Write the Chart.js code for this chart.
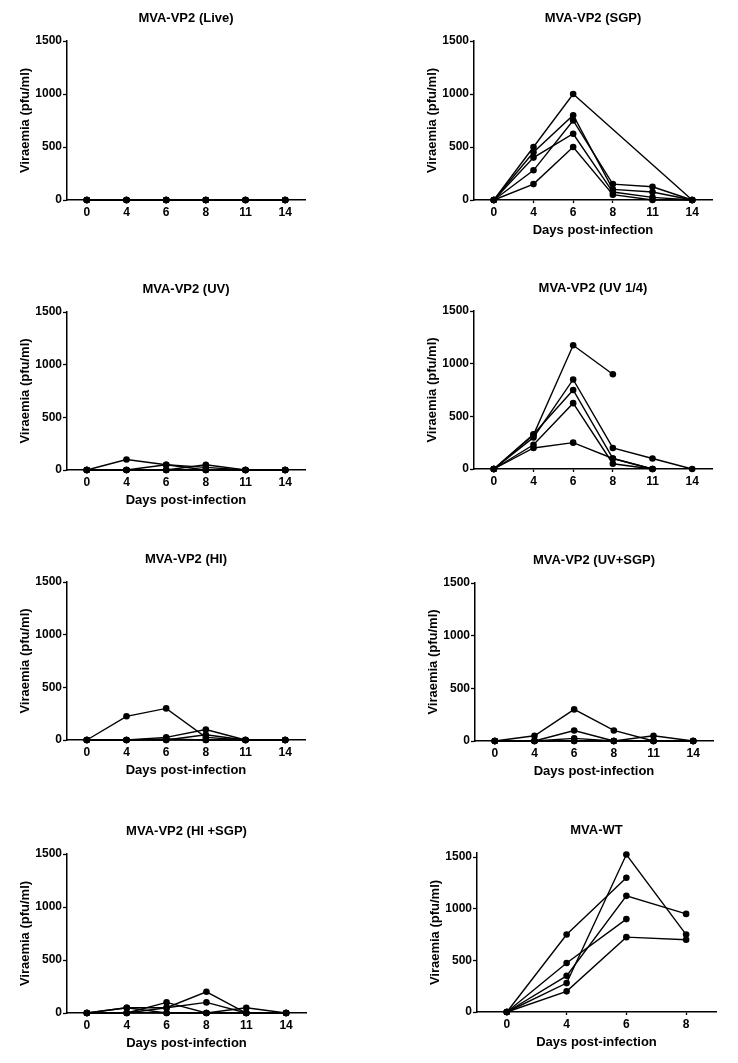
<!DOCTYPE html>
<html>
<head>
<meta charset="utf-8">
<script src="https://cdn.jsdelivr.net/npm/chart.js@4"></script>
<style>
  body { margin: 0; background: #fff; }
  #wrap { position: relative; width: 738px; height: 1063px; }
  canvas { position: absolute; }
</style>
</head>
<body>
<div id="wrap"></div>
<script>
//////// Data ////////
const days = ["0", "4", "6", "8", "11", "14"]
const daysWT = ["0", "4", "6", "8"]
const yTicks = [0, 500, 1000, 1500]

const liveData = [
    [0, 0, 0, 0, 0, 0],
    [0, 0, 0, 0, 0, 0],
    [0, 0, 0, 0, 0, 0],
    [0, 0, 0, 0, 0, 0],
    [0, 0, 0, 0, 0, 0]
]
const sgpData = [
    [0, 500, 1000, null, null, 0],
    [0, 450, 800, 100, 75, 0],
    [0, 400, 625, 75, 25, 0],
    [0, 280, 750, 150, 125, 0],
    [0, 150, 500, 50, 0, 0]
]
const uvData = [
    [0, 100, 50, 0, 0, 0],
    [0, 0, 50, 25, 0, 0],
    [0, 0, 0, 50, 0, 0],
    [0, 0, 0, 0, 0, 0],
    [0, 0, 0, 0, 0, 0]
]
const uvQuarterData = [
    [0, 325, 1175, 900, null, null],
    [0, 300, 850, 200, 100, 0],
    [0, 330, 750, 100, 0, null],
    [0, 230, 625, 50, 0, null],
    [0, 200, 250, 100, 0, null]
]
const hiData = [
    [0, 225, 300, 25, 0, 0],
    [0, 0, 25, 100, 0, 0],
    [0, 0, 0, 50, 0, 0],
    [0, 0, 10, 0, 0, 0],
    [0, 0, 0, 0, 0, 0]
]
const uvSgpData = [
    [0, 50, 300, 100, 0, 0],
    [0, 0, 100, 0, 50, 0],
    [0, 0, 25, 0, 0, 0],
    [0, 0, 0, 0, 0, 0],
    [0, 0, 0, 0, 0, 0]
]
const hiSgpData = [
    [0, 50, 50, 200, 0, 0],
    [0, 0, 100, 0, 50, 0],
    [0, 0, 50, 100, 0, 0],
    [0, 50, 0, 0, 0, 0],
    [0, 0, 0, 0, 0, 0]
]
const wtData = [
    [0, 750, 1300, null],
    [0, 280, 1525, 750],
    [0, 350, 1125, 950],
    [0, 475, 900, null],
    [0, 200, 725, 700]
]

//////// Panels: text + data ////////
const panels = [
    { title: "MVA-VP2 (Live)", labels: days, series: liveData, xTitle: false, max: 1500 },
    { title: "MVA-VP2 (SGP)", labels: days, series: sgpData, xTitle: true, max: 1500 },
    { title: "MVA-VP2 (UV)", labels: days, series: uvData, xTitle: true, max: 1500 },
    { title: "MVA-VP2 (UV 1/4)", labels: days, series: uvQuarterData, xTitle: false, max: 1500 },
    { title: "MVA-VP2 (HI)", labels: days, series: hiData, xTitle: true, max: 1500 },
    { title: "MVA-VP2 (UV+SGP)", labels: days, series: uvSgpData, xTitle: true, max: 1500 },
    { title: "MVA-VP2 (HI +SGP)", labels: days, series: hiSgpData, xTitle: true, max: 1500 },
    { title: "MVA-WT", labels: daysWT, series: wtData, xTitle: true, max: 1540 }
]

//////// Where each plot area sits on the page (left, right, top, bottom) ////////
const boxes = [
    [67, 305, 41, 200], [474, 712, 41, 200],
    [67, 305, 312, 470], [474, 712, 311, 469],
    [67, 305, 582, 740], [475, 713, 583, 741],
    [67, 306, 854, 1013], [477, 716, 853, 1012]
]

const FONT = "'Liberation Sans', Arial, sans-serif"
const Y_AXIS_W = 67
const X_AXIS_H = 45
const TOP_SPACE = 41
const RIGHT_SPACE = 20

let wrap = document.getElementById("wrap")

panels.forEach((p, i) => {
    let [L, R, T, B] = boxes[i]
    let canvas = document.createElement("canvas")
    canvas.width = R - L + Y_AXIS_W + RIGHT_SPACE
    canvas.height = B - T + TOP_SPACE + X_AXIS_H
    canvas.style.left = (L - Y_AXIS_W) + "px"
    canvas.style.top = (T - TOP_SPACE) + "px"
    wrap.appendChild(canvas)

    let datasets = p.series.map(s => ({
        data: s,
        borderColor: "#000",
        backgroundColor: "#000",
        borderWidth: 1.4,
        pointRadius: 3.3,
        pointBorderWidth: 0,
        pointBackgroundColor: "#000",
        spanGaps: true,
        clip: false,
        tension: 0
    }))

    new Chart(canvas.getContext("2d"), {
        type: "line",
        data: { labels: p.labels, datasets: datasets },
        options: {
            responsive: false,
            animation: false,
            devicePixelRatio: 1,
            layout: { padding: { left: 0, right: RIGHT_SPACE, top: 0, bottom: 0 } },
            plugins: {
                legend: { display: false },
                tooltip: { enabled: false },
                title: {
                    display: true,
                    text: p.title,
                    color: "#000",
                    fullSize: false,
                    font: { family: FONT, size: 13, weight: "bold" },
                    padding: { top: 11, bottom: 14.4 }
                }
            },
            scales: {
                x: {
                    type: "category",
                    offset: true,
                    grid: { drawOnChartArea: false, drawTicks: true, tickLength: 3, tickColor: "#000", tickWidth: 1.3 },
                    border: { display: true, color: "#000", width: 1.5 },
                    ticks: { color: "#000", padding: 2, maxRotation: 0, font: { family: FONT, size: 12, weight: "bold" } },
                    title: {
                        display: p.xTitle,
                        text: "Days post-infection",
                        color: "#000",
                        font: { family: FONT, size: 13, weight: "bold" },
                        padding: { top: 0, bottom: 7.2 }
                    },
                    afterFit: scale => { scale.height = X_AXIS_H }
                },
                y: {
                    min: 0,
                    max: p.max,
                    grid: { drawOnChartArea: false, drawTicks: true, tickLength: 4, tickColor: "#000", tickWidth: 1.3 },
                    border: { display: true, color: "#000", width: 1.5 },
                    ticks: {
                        color: "#000",
                        padding: 1,
                        font: { family: FONT, size: 12, weight: "bold" },
                        callback: v => String(v)
                    },
                    afterBuildTicks: scale => {
                        scale.ticks = yTicks.map(v => ({ value: v }))
                    },
                    title: {
                        display: true,
                        text: "Viraemia (pfu/ml)",
                        color: "#000",
                        font: { family: FONT, size: 13, weight: "bold" },
                        padding: { top: 17.2, bottom: 0 }
                    },
                    afterFit: scale => { scale.width = Y_AXIS_W }
                }
            }
        }
    })
})
</script>
</body>
</html>
